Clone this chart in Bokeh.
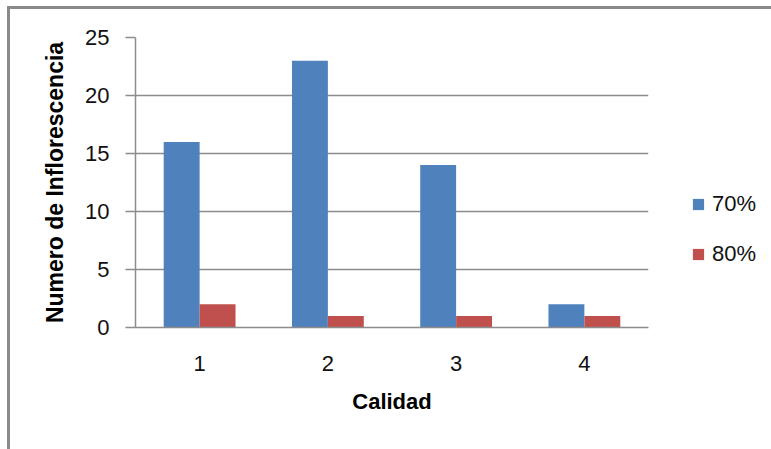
from bokeh.plotting import figure
from bokeh.models import (ColumnDataSource, FactorRange, Range1d, Legend, LegendItem,
                          FixedTicker)
from bokeh.transform import dodge
from bokeh.embed import file_html
from bokeh.resources import INLINE

# Inflorescence counts per quality class, for two humidity levels
calidad = ["1", "2", "3", "4"]
serie_70 = [16, 23, 14, 2]
serie_80 = [2, 1, 1, 1]
series_labels = ["70%", "80%"]
y_ticks = [0, 5, 10, 15, 20, 25]

BLUE = "#4F81BD"
RED = "#C0504D"
GRID = "#8c8c8c"
FONT = "Liberation Sans"

source = ColumnDataSource(dict(cat=calidad, s70=serie_70, s80=serie_80))

# canvas starts 10px right / 9px down of the page corner (margin + border)
p = figure(
    frame_width=513, frame_height=290,
    x_range=FactorRange(factors=calidad),
    y_range=Range1d(0, 25),
    output_backend="svg", toolbar_location=None,
    min_border_left=125, min_border_right=123,
    min_border_top=28, min_border_bottom=122,
    background_fill_color="white", border_fill_color="white",
)
p.outline_line_color = None
p.margin = (6, 0, 0, 7)
p.styles = {"border-top": "3px solid #8a8a8a", "border-left": "3px solid #8a8a8a"}

bar_w = 0.28
r70 = p.vbar(x=dodge("cat", -bar_w / 2, range=p.x_range), top="s70", width=bar_w,
             source=source, fill_color=BLUE, line_color=None)
r80 = p.vbar(x=dodge("cat", bar_w / 2, range=p.x_range), top="s80", width=bar_w,
             source=source, fill_color=RED, line_color=None)

# grid
p.xgrid.grid_line_color = None
p.ygrid.ticker = FixedTicker(ticks=y_ticks)
p.ygrid.grid_line_color = GRID
p.ygrid.grid_line_width = 1.5

# y axis
p.yaxis.ticker = FixedTicker(ticks=y_ticks)
p.yaxis.axis_label = "Numero de Inflorescencia"
p.yaxis.axis_line_color = GRID
p.yaxis.axis_line_width = 1.5
p.yaxis.major_tick_line_color = GRID
p.yaxis.major_tick_line_width = 1.5
p.yaxis.major_tick_out = 10
p.yaxis.major_tick_in = 0
p.yaxis.minor_tick_line_color = None
p.yaxis.major_label_standoff = 16
p.yaxis.axis_label_standoff = 14

# x axis
p.xaxis.axis_label = "Calidad"
p.xaxis.axis_line_color = GRID
p.xaxis.axis_line_width = 1.5
p.xaxis.major_tick_line_color = None
p.xaxis.minor_tick_line_color = None
p.xaxis.major_label_standoff = 22
p.xaxis.axis_label_standoff = 15

for ax in (p.xaxis[0], p.yaxis[0]):
    ax.major_label_text_font = FONT
    ax.major_label_text_font_size = "22px"
    ax.major_label_text_color = "#111111"
    ax.axis_label_text_font = FONT
    ax.axis_label_text_font_size = "22px"
    ax.axis_label_text_font_style = "bold"
    ax.axis_label_text_color = "#000000"
p.yaxis.axis_label_text_font_size = "23px"

legend = Legend(
    items=[LegendItem(label=series_labels[0], renderers=[r70]),
           LegendItem(label=series_labels[1], renderers=[r80])],
    location=(43, 60),
    orientation="vertical",
    glyph_width=14, glyph_height=14,
    label_standoff=7, spacing=24,
    padding=0, margin=0,
    border_line_color=None, background_fill_alpha=0,
    label_text_font=FONT, label_text_font_size="22px", label_text_color="#111111",
)
p.add_layout(legend, "right")

open("out.html", "w").write(file_html(p, INLINE))
